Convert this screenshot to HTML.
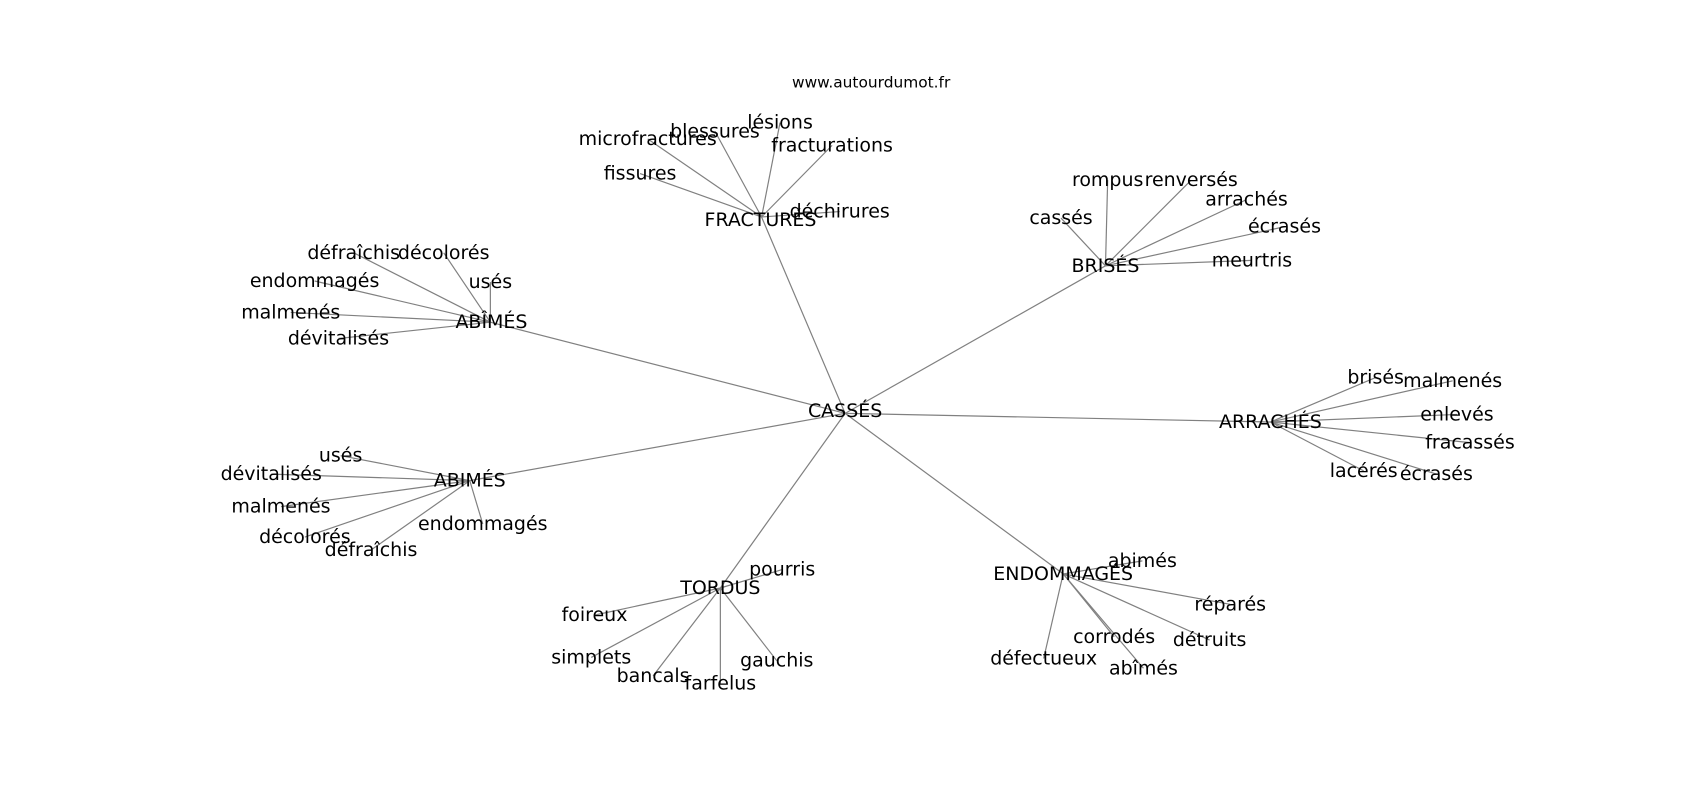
<!DOCTYPE html>
<html><head><meta charset="utf-8"><style>
html,body{margin:0;padding:0;background:#fff;width:1700px;height:800px;overflow:hidden}
svg text{font-family:"DejaVu Sans","Liberation Sans",sans-serif;fill:#000;text-anchor:middle;dominant-baseline:central}
</style></head><body>
<svg width="1700" height="800" viewBox="0 0 1567 737.4" xmlns="http://www.w3.org/2000/svg">
<g stroke="#808080" stroke-width="1.1" fill="none">
<line x1="779" y1="381" x2="702" y2="200"/>
<line x1="779" y1="381" x2="1019" y2="245"/>
<line x1="779" y1="381" x2="452" y2="297"/>
<line x1="779" y1="381" x2="1171" y2="389"/>
<line x1="779" y1="381" x2="433" y2="443"/>
<line x1="779" y1="381" x2="664" y2="542"/>
<line x1="779" y1="381" x2="980" y2="529"/>

<line x1="702" y1="200" x2="597" y2="128"/>
<line x1="702" y1="200" x2="659" y2="121"/>
<line x1="702" y1="200" x2="719" y2="113"/>
<line x1="702" y1="200" x2="767" y2="134"/>
<line x1="702" y1="200" x2="590" y2="160"/>
<line x1="702" y1="200" x2="774" y2="195"/>

<line x1="1019" y1="245" x2="1021" y2="166"/>
<line x1="1019" y1="245" x2="1098" y2="166"/>
<line x1="1019" y1="245" x2="1149" y2="184"/>
<line x1="1019" y1="245" x2="1184" y2="209"/>
<line x1="1019" y1="245" x2="1154" y2="240"/>
<line x1="1019" y1="245" x2="978" y2="201"/>

<line x1="452" y1="297" x2="326" y2="233"/>
<line x1="452" y1="297" x2="409" y2="233"/>
<line x1="452" y1="297" x2="452" y2="260"/>
<line x1="452" y1="297" x2="290" y2="259"/>
<line x1="452" y1="297" x2="268" y2="288"/>
<line x1="452" y1="297" x2="312" y2="312"/>

<line x1="1171" y1="389" x2="1268" y2="348"/>
<line x1="1171" y1="389" x2="1339" y2="351"/>
<line x1="1171" y1="389" x2="1343" y2="382"/>
<line x1="1171" y1="389" x2="1355" y2="408"/>
<line x1="1171" y1="389" x2="1257" y2="434"/>
<line x1="1171" y1="389" x2="1324" y2="437"/>

<line x1="433" y1="443" x2="314" y2="420"/>
<line x1="433" y1="443" x2="250" y2="437"/>
<line x1="433" y1="443" x2="259" y2="467"/>
<line x1="433" y1="443" x2="281" y2="495"/>
<line x1="433" y1="443" x2="342" y2="507"/>
<line x1="433" y1="443" x2="445" y2="483"/>

<line x1="664" y1="542" x2="721" y2="525"/>
<line x1="664" y1="542" x2="548" y2="567"/>
<line x1="664" y1="542" x2="545" y2="606"/>
<line x1="664" y1="542" x2="602" y2="623"/>
<line x1="664" y1="542" x2="664" y2="630"/>
<line x1="664" y1="542" x2="716" y2="609"/>

<line x1="980" y1="529" x2="1053" y2="517"/>
<line x1="980" y1="529" x2="1134" y2="557"/>
<line x1="980" y1="529" x2="1027" y2="587"/>
<line x1="980" y1="529" x2="1115" y2="590"/>
<line x1="980" y1="529" x2="962" y2="607"/>
<line x1="980" y1="529" x2="1054" y2="616"/>
</g>
<text x="803" y="76" font-size="14.2">www.autourdumot.fr</text>
<g font-size="17.5">
<text x="779" y="379">CASSÉS</text>
<text x="701" y="203">FRACTURÉS</text>
<text x="597" y="128">microfractures</text>
<text x="659" y="121">blessures</text>
<text x="719" y="113">lésions</text>
<text x="767" y="134">fracturations</text>
<text x="590" y="160">fissures</text>
<text x="774" y="195">déchirures</text>
<text x="1019" y="245">BRISÉS</text>
<text x="1021" y="166">rompus</text>
<text x="1098" y="166">renversés</text>
<text x="1149" y="184">arrachés</text>
<text x="1184" y="209">écrasés</text>
<text x="1154" y="240">meurtris</text>
<text x="978" y="201">cassés</text>
<text x="453" y="297">ABÎMÉS</text>
<text x="326" y="233">défraîchis</text>
<text x="409" y="233">décolorés</text>
<text x="452" y="260">usés</text>
<text x="290" y="259">endommagés</text>
<text x="268" y="288">malmenés</text>
<text x="312" y="312">dévitalisés</text>
<text x="1171" y="389">ARRACHÉS</text>
<text x="1268" y="348">brisés</text>
<text x="1339" y="351">malmenés</text>
<text x="1343" y="382">enlevés</text>
<text x="1355" y="408">fracassés</text>
<text x="1257" y="434">lacérés</text>
<text x="1324" y="437">écrasés</text>
<text x="433" y="443">ABIMÉS</text>
<text x="314" y="420">usés</text>
<text x="250" y="437">dévitalisés</text>
<text x="259" y="467">malmenés</text>
<text x="281" y="495">décolorés</text>
<text x="342" y="507">défraîchis</text>
<text x="445" y="483">endommagés</text>
<text x="664" y="542">TORDUS</text>
<text x="721" y="525">pourris</text>
<text x="548" y="567">foireux</text>
<text x="545" y="606">simplets</text>
<text x="602" y="623">bancals</text>
<text x="664" y="630">farfelus</text>
<text x="716" y="609">gauchis</text>
<text x="980" y="529">ENDOMMAGÉS</text>
<text x="1053" y="517">abimés</text>
<text x="1134" y="557">réparés</text>
<text x="1027" y="587">corrodés</text>
<text x="1115" y="590">détruits</text>
<text x="962" y="607">défectueux</text>
<text x="1054" y="616">abîmés</text>
</g>
</svg>
</body></html>
